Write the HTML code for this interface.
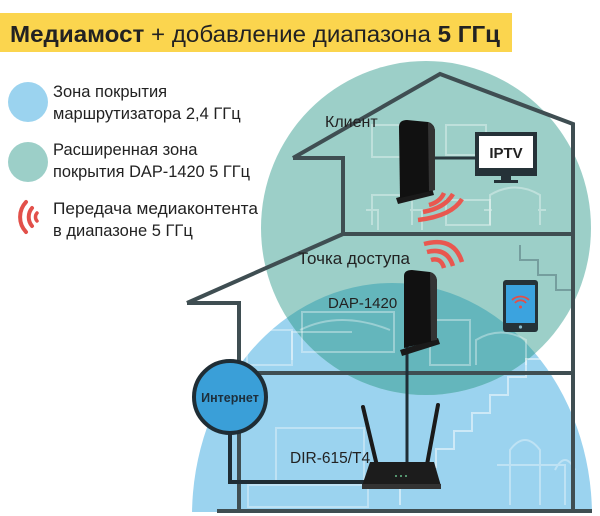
<!DOCTYPE html>
<html><head><meta charset="utf-8"><style>
html,body{margin:0;padding:0;background:#fff;overflow:hidden;width:600px;height:516px;}
svg{display:block;}
text{font-family:"Liberation Sans","Noto Sans CJK SC",sans-serif;}
</style></head><body>
<svg width="600" height="516" viewBox="0 0 600 516" xmlns="http://www.w3.org/2000/svg">
<defs>
<clipPath id="blueclip"><ellipse cx="392" cy="516" rx="200" ry="233"/></clipPath>
<clipPath id="pageclip"><rect x="0" y="0" width="600" height="512"/></clipPath>
</defs>
<!-- title -->
<rect x="0" y="13" width="512" height="39" fill="#fbd54e"/>
<text x="10" y="42" font-size="23" fill="#222" textLength="490" lengthAdjust="spacingAndGlyphs"><tspan font-weight="bold">Медиамост</tspan> + добавление диапазона <tspan font-weight="bold">5 ГГц</tspan></text>

<!-- coverage circles -->
<g clip-path="url(#pageclip)">
<ellipse cx="392" cy="516" rx="200" ry="233" fill="#9bd3ef"/>
<ellipse cx="426" cy="228" rx="165" ry="167" fill="#9ccfc8"/>
<ellipse cx="426" cy="228" rx="165" ry="167" fill="#64b6bc" clip-path="url(#blueclip)"/>
</g>

<!-- legend -->
<circle cx="28" cy="102" r="20" fill="#9bd3ef"/>
<text x="53" y="97" font-size="16.5" fill="#222">Зона покрытия</text>
<text x="53" y="119" font-size="16.5" fill="#222">маршрутизатора 2,4 ГГц</text>
<circle cx="28" cy="162" r="20" fill="#9ccfc8"/>
<text x="53" y="155" font-size="16.5" fill="#222">Расширенная зона</text>
<text x="53" y="177" font-size="16.5" fill="#222" textLength="197" lengthAdjust="spacingAndGlyphs">покрытия DAP-1420 5 ГГц</text>
<g fill="none" stroke="#e2504a" stroke-linecap="round">
<path d="M26 202 A22 22 0 0 0 26 232" stroke-width="4"/>
<path d="M32 208 A14 14 0 0 0 32 226" stroke-width="4"/>
<path d="M37 213 A6 6 0 0 0 37 221" stroke-width="3.5"/>
</g>
<text x="53" y="214" font-size="16.5" fill="#222" textLength="205" lengthAdjust="spacingAndGlyphs">Передача медиаконтента</text>
<text x="53" y="236" font-size="16.5" fill="#222">в диапазоне 5 ГГц</text>

<!-- faint furniture -->
<g fill="none" stroke="#ffffff" stroke-opacity="0.35" stroke-width="2">
<rect x="372" y="125" width="48" height="32"/><rect x="446" y="125" width="40" height="30"/>
<path d="M372 225 v-30 h40 v30 M366 210 h12 v20 M410 210 h12 v20"/>
<rect x="446" y="200" width="44" height="25"/>
<path d="M490 225 v-30 q25 -15 50 0 v30 M484 210 h8 M538 210 h8"/>
<rect x="247" y="330" width="45" height="35"/>
<path d="M292 360 v-28 h60 M300 330 q40 -20 90 0"/>
<rect x="302" y="312" width="92" height="40"/>
<rect x="430" y="320" width="40" height="45"/>
<path d="M476 365 v-25 q25 -15 50 0 v25"/>
<rect x="276" y="428" width="88" height="55"/><rect x="248" y="485" width="120" height="22"/>
<path d="M510 505 v-55 q15 -20 30 0 v55 M497 465 h55 M540 505 v-40 h25 v40 M555 470 q10 -20 20 0"/>
<path d="M400 505 v-20 h18 v-18 h18 v-18 h18 v-18 h18 v-18 h18 v-18 h18 v-18 h18 v-18 h18" stroke-opacity="0.5"/>
<path d="M520 245 v15 h18 v15 h18 v15 h18" stroke-opacity="0.4" stroke="#3d5560"/>
</g>

<!-- house -->
<g fill="none" stroke="#3f4e52" stroke-width="4" stroke-linejoin="miter">
<path d="M293 158 L440 74 L573 124 L573 511"/>
<path d="M293 158 H343 V234 H573"/>
<path d="M187 303 L343 234"/>
<path d="M187 303 H239 V511"/>
<path d="M239 373 H573"/>
<path d="M217 511 H592"/>
</g>

<!-- Internet -->
<path d="M230 430 V482 H368" fill="none" stroke="#1f2d35" stroke-width="4"/>
<circle cx="230" cy="397" r="36" fill="#3a9fd8" stroke="#1f2d35" stroke-width="4"/>
<text x="230" y="402" font-size="12.5" font-weight="bold" fill="#1d2f3c" text-anchor="middle">Интернет</text>

<!-- cable router to DAP -->
<path d="M407 300 V466" stroke="#1f2d35" stroke-width="3"/>

<!-- router -->
<path d="M378 470 L363 407" stroke="#1a1a1a" stroke-width="4" stroke-linecap="round"/>
<path d="M426 470 L438 405" stroke="#1a1a1a" stroke-width="4" stroke-linecap="round"/>
<path d="M370 462 H434 L441 486 H362 Z" fill="#1c1c1c"/>
<rect x="362" y="484" width="79" height="5" fill="#333"/>
<circle cx="396" cy="476" r="1" fill="#6b8"/><circle cx="401" cy="476" r="1" fill="#6b8"/><circle cx="406" cy="476" r="1" fill="#6b8"/>
<text x="290" y="463" font-size="15.5" fill="#222">DIR-615/T4</text>

<!-- DAP-1420 access point -->
<path d="M400 350 L438 338 L440 344 L402 356 Z" fill="#1a1a1a"/>
<path d="M404 276 Q404 270 412 270 L430 272 Q437 274 437 282 L437 340 L404 348 Z" fill="#111"/>
<path d="M430 272 Q437 274 437 282 L437 340 L431 341 Z" fill="#333"/>
<text x="328" y="308" font-size="15" fill="#222">DAP-1420</text>
<text x="298" y="264" font-size="17" fill="#222">Точка доступа</text>

<!-- client device -->
<path d="M396 198 L432 188 L434 195 L398 204 Z" fill="#1a1a1a"/>
<path d="M399 127 Q399 120 407 120 L428 122 Q435 124 435 132 L435 190 L400 198 Z" fill="#111"/>
<path d="M428 122 Q435 124 435 132 L435 190 L429 191 Z" fill="#333"/>
<path d="M435 158 H475" stroke="#2a3a40" stroke-width="3"/>
<text x="325" y="127" font-size="16" fill="#222">Клиент</text>

<!-- TV -->
<rect x="475" y="132" width="62" height="44" fill="#253238"/>
<rect x="479" y="136" width="54" height="32" fill="#fff"/>
<text x="506" y="158" font-size="15" font-weight="bold" fill="#222" text-anchor="middle">IPTV</text>
<rect x="501" y="176" width="10" height="5" fill="#253238"/>
<rect x="494" y="180" width="24" height="3" fill="#253238"/>

<!-- tablet -->
<rect x="503" y="280" width="35" height="52" rx="3" fill="#253238"/>
<rect x="506" y="285" width="29" height="38" fill="#3ba3df"/>
<circle cx="520.5" cy="327" r="1.6" fill="#8bc"/>
<g fill="none" stroke="#e2504a" stroke-width="1.8">
<path d="M512 300 A12 12 0 0 1 529 300"/><path d="M515 303 A7 7 0 0 1 526 303"/>
</g>
<circle cx="520.5" cy="307" r="1.5" fill="#e2504a"/>

<!-- red waves -->
<g fill="none" stroke="#e9574f" stroke-width="4.5" stroke-linecap="butt">
<path d="M418 220 Q452 216 462 199"/>
<path d="M423 212 Q445 208 453 194"/>
<path d="M429 205 Q440 202 444 193"/>
<path d="M424 244 Q454 236 462 262"/>
<path d="M427 252 Q447 247 453 266"/>
<path d="M431 260 Q441 257 444 268"/>
</g>
</svg>
</body></html>
